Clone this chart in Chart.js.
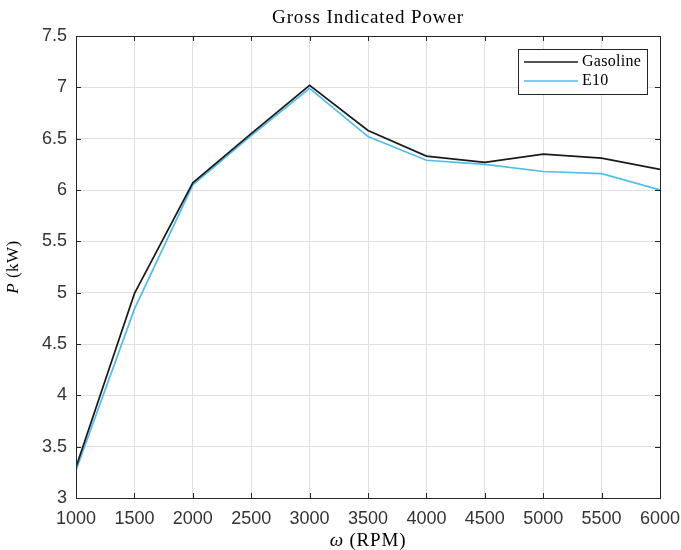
<!DOCTYPE html>
<html>
<head>
<meta charset="utf-8">
<script src="https://cdn.jsdelivr.net/npm/chart.js@4"></script>
<style>
  html, body { margin: 0; padding: 0; background: #fff; }
  #wrap { width: 681px; height: 550px; }
</style>
</head>
<body>
<div id="wrap"><canvas id="myChart" width="681" height="550"></canvas></div>
<script>
// engine speed (RPM) and gross indicated power (kW)
const rpm = [1000, 1500, 2000, 2500, 3000, 3500, 4000, 4500, 5000, 5500, 6000];
const gasoline = [3.30, 4.99, 6.07, 6.55, 7.02, 6.58, 6.33, 6.27, 6.35, 6.31, 6.20];
const e10 = [3.27, 4.84, 6.05, 6.53, 6.99, 6.52, 6.29, 6.25, 6.18, 6.16, 6.00];
const seriesNames = ["Gasoline", "E10"];

const serif = "'Liberation Serif', 'DejaVu Serif', serif";
const sans = "'Liberation Sans', Arial, sans-serif";

function pts(ys) {
  return rpm.map((x, i) => ({ x: x, y: ys[i] }));
}

// draws text made of [string, italic] pieces, centred on x
function mixedText(ctx, parts, x, y, size, spacing) {
  ctx.letterSpacing = spacing + "px";
  const widths = parts.map(p => {
    ctx.font = (p[1] ? "italic " : "") + size + "px " + serif;
    return ctx.measureText(p[0]).width;
  });
  let sx = x - widths.reduce((s, w) => s + w, 0) / 2;
  ctx.textAlign = "left";
  parts.forEach((p, i) => {
    ctx.font = (p[1] ? "italic " : "") + size + "px " + serif;
    ctx.fillText(p[0], sx, y);
    sx += widths[i];
  });
  ctx.letterSpacing = "0px";
}

// box, inward ticks, titles and legend drawn like a MATLAB figure
const matlabFrame = {
  id: "matlabFrame",
  afterDraw(chart) {
    const ctx = chart.ctx;
    const a = chart.chartArea;
    const xs = chart.scales.x, ys = chart.scales.y;
    ctx.save();
    ctx.strokeStyle = "#262626";
    ctx.lineWidth = 1;
    ctx.strokeRect(Math.round(a.left) + 0.5, Math.round(a.top) + 0.5,
      Math.round(a.right - a.left), Math.round(a.bottom - a.top));
    ctx.beginPath();
    xs.ticks.forEach(t => {
      const px = Math.round(xs.getPixelForValue(t.value)) + 0.5;
      ctx.moveTo(px, a.bottom); ctx.lineTo(px, a.bottom - 5);
      ctx.moveTo(px, a.top); ctx.lineTo(px, a.top + 5);
    });
    ys.ticks.forEach(t => {
      const py = Math.round(ys.getPixelForValue(t.value)) + 0.5;
      ctx.moveTo(a.left, py); ctx.lineTo(a.left + 5, py);
      ctx.moveTo(a.right, py); ctx.lineTo(a.right - 5, py);
    });
    ctx.stroke();

    const cx = (a.left + a.right) / 2;
    ctx.fillStyle = "#000";
    ctx.textBaseline = "middle";

    mixedText(ctx, [["Gross Indicated Power", false]], cx, 18, 19, 0.9);
    mixedText(ctx, [["\u03c9", true], [" (RPM)", false]], cx, 541, 19, 0.8);

    ctx.save();
    ctx.translate(14, (a.top + a.bottom) / 2);
    ctx.rotate(-Math.PI / 2);
    mixedText(ctx, [["P", true], [" (kW)", false]], 0, 0, 17, 0.5);
    ctx.restore();

    // legend
    const lx = 518, ly = 49, lw = 129, lh = 45;
    ctx.fillStyle = "#fff";
    ctx.fillRect(lx, ly, lw, lh);
    ctx.strokeStyle = "#262626";
    ctx.strokeRect(lx + 0.5, ly + 0.5, lw, lh);
    ctx.font = "16px " + serif;
    ctx.letterSpacing = "0.3px";
    ctx.textAlign = "left";
    chart.data.datasets.forEach((ds, i) => {
      const yy = ly + 13 + i * 19;
      ctx.strokeStyle = ds.borderColor;
      ctx.lineWidth = 1.5;
      ctx.beginPath();
      ctx.moveTo(lx + 6, yy); ctx.lineTo(lx + 60, yy);
      ctx.stroke();
      ctx.fillStyle = "#000";
      ctx.fillText(ds.label, lx + 64, yy);
    });
    ctx.restore();
  }
};

new Chart("myChart", {
  type: "line",
  data: {
    datasets: [
      { label: seriesNames[0], data: pts(gasoline), borderColor: "#1a1a1a", borderWidth: 1.7 },
      { label: seriesNames[1], data: pts(e10), borderColor: "#4DBEEE", borderWidth: 1.7 }
    ]
  },
  options: {
    responsive: false,
    animation: false,
    events: [],
    elements: { point: { radius: 0 }, line: { tension: 0 } },
    layout: { padding: { left: 0, top: 36, right: 21, bottom: 0 } },
    plugins: { legend: { display: false }, title: { display: false }, tooltip: { enabled: false } },
    scales: {
      x: {
        type: "linear", min: 1000, max: 6000,
        afterFit: s => { s.height = 52; s.paddingLeft = 0; s.paddingRight = 0; },
        grid: { color: "#dfdfdf", drawTicks: false },
        border: { display: false },
        ticks: {
          stepSize: 500, padding: 10, color: "#333",
          font: { family: sans, size: 18 },
          callback: v => String(v)
        }
      },
      y: {
        min: 3, max: 7.5,
        afterFit: s => { s.width = 76; s.paddingTop = 0; s.paddingBottom = 0; },
        grid: { color: "#dfdfdf", drawTicks: false },
        border: { display: false },
        ticks: {
          stepSize: 0.5, padding: 9, color: "#333",
          font: { family: sans, size: 18 },
          callback: v => String(v)
        }
      }
    }
  },
  plugins: [matlabFrame]
});
</script>
</body>
</html>
